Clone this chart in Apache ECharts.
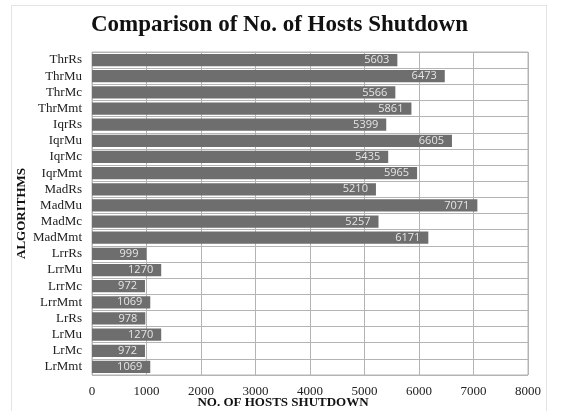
<!DOCTYPE html>
<html>
<head>
<meta charset="utf-8">
<script src="https://cdn.jsdelivr.net/npm/echarts@6/dist/echarts.min.js"></script>
<style>
	html, body { margin: 0; padding: 0; background: #fff; }
	#chart { width: 575px; height: 411px; }
	#frame { position: absolute; left: 11px; top: 5px; width: 536px; height: 406px; border: 1px solid #e4e4e4; border-bottom: none; box-sizing: border-box; pointer-events: none; }
</style>
</head>
<body>
<div id="chart"></div>
<div id="frame"></div>
<script>
// 算法名（自上而下）
var algorithms = ['ThrRs', 'ThrMu', 'ThrMc', 'ThrMmt', 'IqrRs', 'IqrMu', 'IqrMc', 'IqrMmt',
	'MadRs', 'MadMu', 'MadMc', 'MadMmt', 'LrrRs', 'LrrMu', 'LrrMc', 'LrrMmt',
	'LrRs', 'LrMu', 'LrMc', 'LrMmt'];
// 关机主机数
var hostsShutdown = [5603, 6473, 5566, 5861, 5399, 6605, 5435, 5965,
	5210, 7071, 5257, 6171, 999, 1270, 972, 1069,
	978, 1270, 972, 1069];
var xTicks = [0, 1000, 2000, 3000, 4000, 5000, 6000, 7000, 8000];

var serif = '"Liberation Serif", "DejaVu Serif", serif';
var gridColor = '#b4b4b4';
var chart = echarts.init(document.getElementById('chart'));
var option = {
	backgroundColor: '#fff',
	animation: false,
	title: {
		text: 'Comparison of No. of Hosts Shutdown',
		left: 86,
		top: 9,
		textStyle: {
			fontFamily: serif,
			fontSize: 23,
			fontWeight: 'bold',
			color: '#111'
		}
	},
	grid: {
		left: 92,
		right: 47,
		top: 52,
		bottom: 36,
		outerBoundsMode: 'none',
		containLabel: false,
		show: true,
		borderColor: gridColor,
		borderWidth: 1
	},
	xAxis: {
		type: 'value',
		min: xTicks[0],
		max: xTicks[xTicks.length - 1],
		interval: 1000,
		name: 'NO. OF HOSTS SHUTDOWN',
		nameLocation: 'middle',
		nameGap: 21,
		nameMoveOverlap: false,
		nameTextStyle: {
			fontFamily: serif,
			fontSize: 13,
			fontWeight: 'bold',
			color: '#111',
			padding: [0, 54, 0, 0]
		},
		axisLine: { show: false },
		axisTick: { show: false },
		axisLabel: {
			margin: 10,
			fontFamily: serif,
			fontSize: 13,
			color: '#222',
			formatter: function(v) { return String(v); }
		},
		splitLine: {
			show: true,
			lineStyle: { color: gridColor, width: 1 }
		}
	},
	yAxis: {
		type: 'category',
		data: algorithms,
		inverse: true,
		name: 'ALGORITHMS',
		nameLocation: 'middle',
		nameGap: 64,
		nameMoveOverlap: false,
		nameRotate: 90,
		nameTextStyle: {
			fontFamily: serif,
			fontSize: 13,
			fontWeight: 'bold',
			color: '#111'
		},
		axisLine: { show: false },
		axisTick: { show: false, interval: 0 },
		axisLabel: {
			interval: 0,
			margin: 10,
			fontFamily: serif,
			fontSize: 13,
			color: '#222'
		},
		splitLine: {
			show: true,
			interval: 0,
			lineStyle: { color: gridColor, width: 1 }
		}
	},
	series: [{
		type: 'bar',
		data: hostsShutdown,
		barCategoryGap: '24%',
		itemStyle: { color: '#6e6e6e' },
		label: {
			show: true,
			position: 'insideRight',
			distance: 8,
			fontFamily: '"Open Sans", "DejaVu Sans", sans-serif',
			fontSize: 11,
			color: '#e6e6e6'
		}
	}]
};
chart.setOption(option);
</script>
</body>
</html>
